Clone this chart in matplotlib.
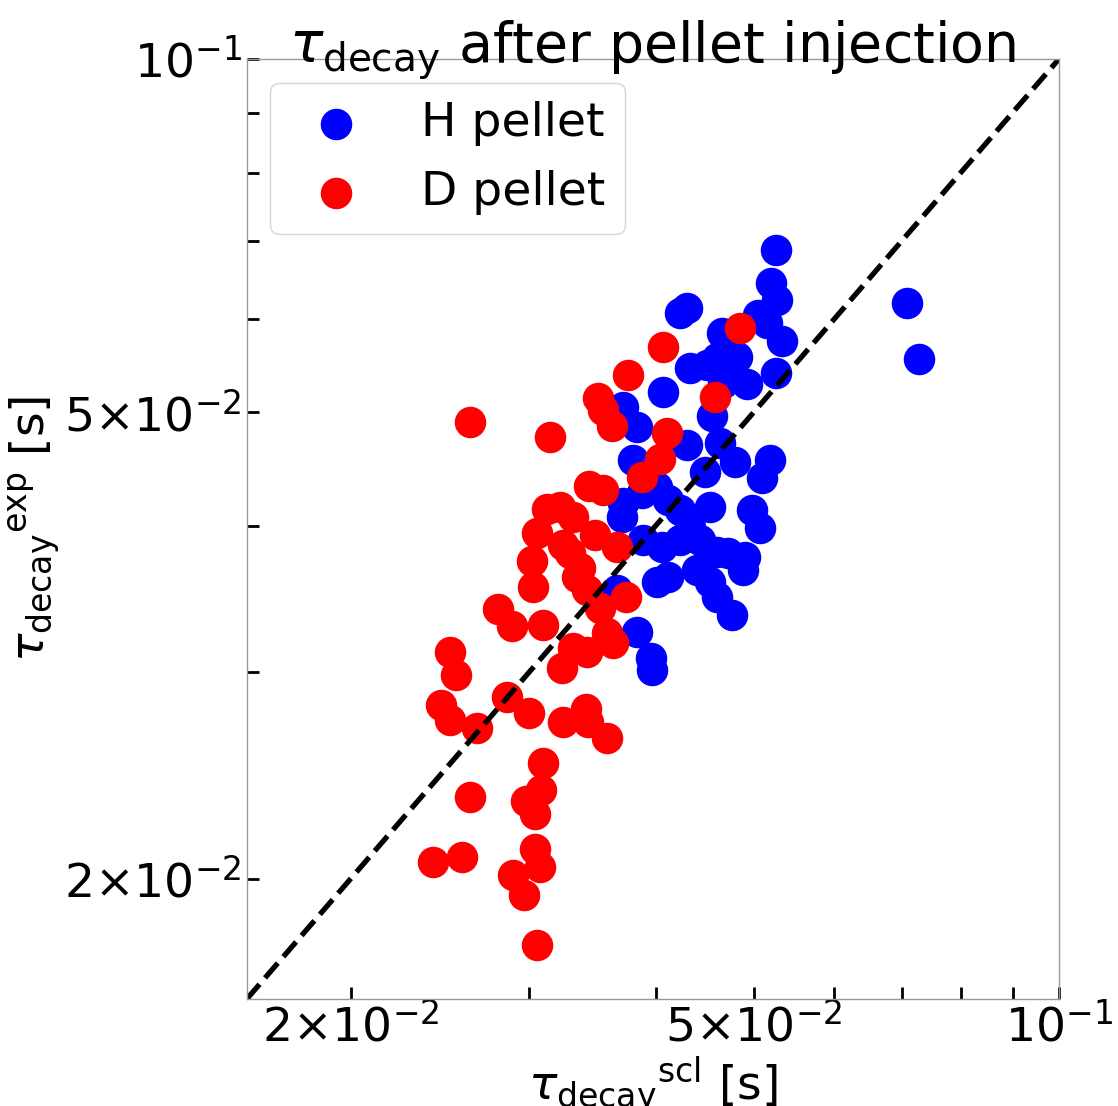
import matplotlib
matplotlib.use("Agg")
import matplotlib.pyplot as plt
from matplotlib.ticker import LogLocator, FuncFormatter
import numpy as np

# Decay times after pellet injection: scaling-law prediction vs. experiment [s]
h_tau_scl = [0.05259, 0.05200, 0.05271, 0.05048, 0.05152, 0.05331, 0.05259, 0.07080,
             0.07275, 0.04296, 0.04228, 0.04652, 0.04737, 0.04599, 0.04813, 0.04662,
             0.04326, 0.04496, 0.04737, 0.04924, 0.04662, 0.04069, 0.04547, 0.03715,
             0.03835, 0.04296, 0.04630, 0.04792, 0.04476, 0.05188, 0.05094, 0.03801,
             0.04014, 0.03715, 0.03707, 0.03880, 0.04116, 0.04228, 0.04526, 0.04980,
             0.05070, 0.03888, 0.04060, 0.04228, 0.04326, 0.04426, 0.04599, 0.04716,
             0.04901, 0.04880, 0.04395, 0.04526, 0.04599, 0.04759, 0.04014, 0.04116,
             0.03665, 0.03835, 0.03959, 0.03968]
h_tau_exp = [0.06874, 0.06444, 0.06233, 0.06051, 0.05957, 0.05750, 0.05400, 0.06197,
             0.05551, 0.06136, 0.06076, 0.05841, 0.05649, 0.05561, 0.05573, 0.05475,
             0.05453, 0.05485, 0.05390, 0.05286, 0.05296, 0.05203, 0.04963, 0.05052,
             0.04857, 0.04689, 0.04707, 0.04535, 0.04447, 0.04553, 0.04394, 0.04553,
             0.04318, 0.04184, 0.04071, 0.04267, 0.04209, 0.04128, 0.04152, 0.04128,
             0.03984, 0.03891, 0.03837, 0.03891, 0.03992, 0.03891, 0.03801, 0.03793,
             0.03763, 0.03669, 0.03669, 0.03583, 0.03479, 0.03358, 0.03583, 0.03619,
             0.03528, 0.03249, 0.03088, 0.03015]

d_tau_scl = [0.02625, 0.03148, 0.04846, 0.04069, 0.03758, 0.03510, 0.03550, 0.03624,
             0.04578, 0.04106, 0.04041, 0.03880, 0.03439, 0.03550, 0.03127, 0.03221,
             0.03317, 0.03056, 0.03243, 0.03486, 0.03021, 0.03294, 0.03370, 0.03665,
             0.03028, 0.03347, 0.03424, 0.03741, 0.03526, 0.02797, 0.02888, 0.03098,
             0.03317, 0.03583, 0.03632, 0.03424, 0.03236, 0.02508, 0.02543, 0.02457,
             0.02508, 0.02667, 0.02855, 0.03000, 0.03243, 0.03416, 0.03431, 0.03583,
             0.03098, 0.03084, 0.02625, 0.02981, 0.03042, 0.03042, 0.03077, 0.02894,
             0.02968, 0.02413, 0.02578, 0.03056]
d_tau_exp = [0.04905, 0.04763, 0.05901, 0.05684, 0.05379, 0.05142, 0.05022, 0.04867,
             0.05152, 0.04801, 0.04561, 0.04403, 0.04326, 0.04292, 0.04135, 0.04152,
             0.04071, 0.03945, 0.03853, 0.03930, 0.03734, 0.03793, 0.03684, 0.03837,
             0.03549, 0.03619, 0.03528, 0.03479, 0.03405, 0.03398, 0.03287, 0.03294,
             0.03149, 0.03243, 0.03180, 0.03125, 0.03027, 0.03125, 0.02986, 0.02815,
             0.02733, 0.02691, 0.02860, 0.02771, 0.02723, 0.02793, 0.02723, 0.02639,
             0.02512, 0.02382, 0.02350, 0.02331, 0.02273, 0.02122, 0.02048, 0.02016,
             0.01939, 0.02068, 0.02089, 0.01758]

axis_range = [0.0158, 0.1]
labelled_mantissas = [2, 5]


def minor_label(val, pos):
    exp = int(np.floor(np.log10(val) + 1e-9))
    mant = int(round(val / 10.0 ** exp))
    if mant in labelled_mantissas:
        return r"$%d{\times}10^{%d}$" % (mant, exp)
    return ""


def major_label(val, pos):
    exp = int(round(np.log10(val)))
    return r"$10^{%d}$" % exp


fig = plt.figure(figsize=(11.18, 11.06), dpi=100)
ax = fig.add_axes([0.2207, 0.0967, 0.7265, 0.85])

ax.scatter(h_tau_scl, h_tau_exp, s=470, color="blue", label="H pellet")
ax.scatter(d_tau_scl, d_tau_exp, s=470, color="red", label="D pellet")
ax.plot(axis_range, axis_range, "k--", lw=3.8)

ax.set_xscale("log")
ax.set_yscale("log")
ax.set_xlim(axis_range)
ax.set_ylim(axis_range)

for axis in (ax.xaxis, ax.yaxis):
    axis.set_major_locator(LogLocator(base=10, subs=(1.0,)))
    axis.set_minor_locator(LogLocator(base=10, subs=np.arange(2, 10)))
    axis.set_major_formatter(FuncFormatter(major_label))
    axis.set_minor_formatter(FuncFormatter(minor_label))

ax.tick_params(which="both", direction="in", length=8.5, width=2,
               labelsize=34, color="black", top=False, right=False)
for sp in ax.spines.values():
    sp.set_color("#999999")
    sp.set_linewidth(1.0)

ax.set_xlabel(r"${\tau_{\rm decay}}^{\rm scl}$ [s]", fontsize=34, labelpad=2)
ax.set_ylabel(r"${\tau_{\rm decay}}^{\rm exp}$ [s]", fontsize=34, labelpad=2)
ax.set_title(r"$\tau_{\rm decay}$ after pellet injection", fontsize=40, y=1.0, pad=-2)

ax.legend(loc="upper left", fontsize=34)

fig.savefig("out.png", dpi=100)
